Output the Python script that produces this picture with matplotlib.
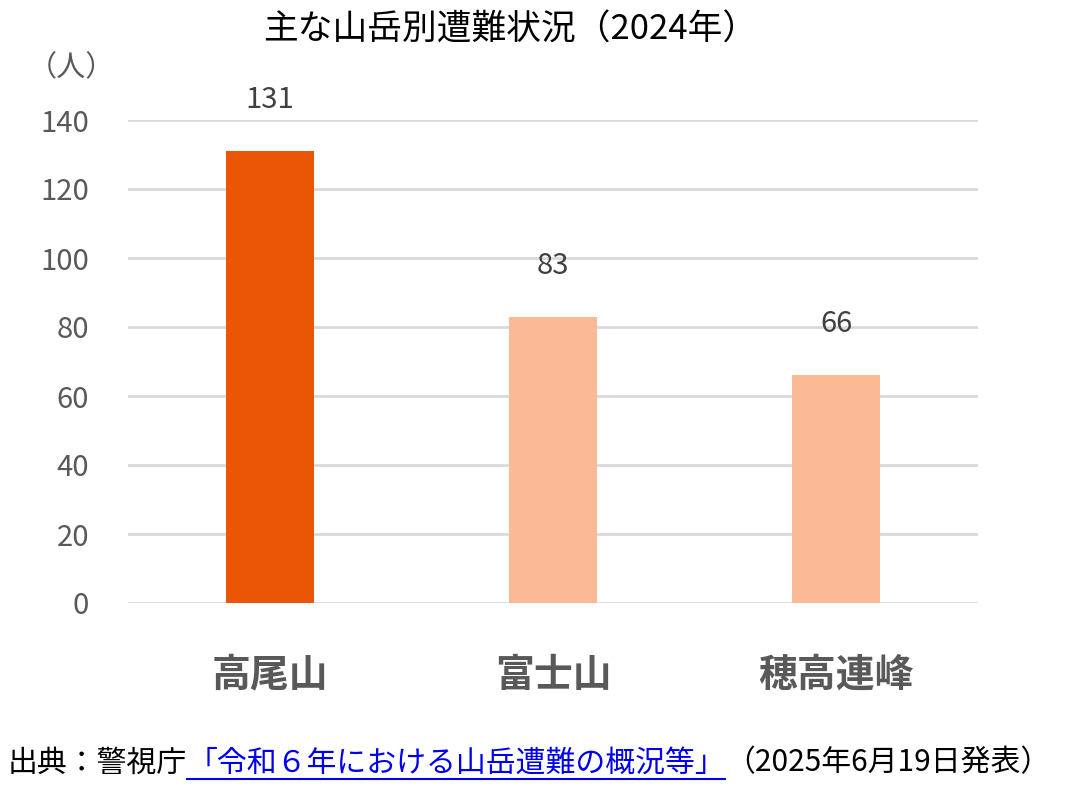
import matplotlib
matplotlib.use("Agg")
import matplotlib.pyplot as plt

categories = ["高尾山", "富士山", "穂高連峰"]
values = [131, 83, 66]
colors = ["#EA5506", "#FBB995", "#FBB995"]
yticks = [0, 20, 40, 60, 80, 100, 120, 140]

plt.rcParams['font.family'] = ['Noto Sans CJK JP', 'DejaVu Sans']
fig = plt.figure(figsize=(10.69, 7.89), dpi=100)
ax = fig.add_axes([128/1069, 1-603/789, 850/1069, 483/789])
x = range(len(categories))
ax.bar(x, values, width=0.31, color=colors, zorder=3)
ax.set_xlim(-0.5, 2.5)
ax.set_ylim(0, 140)
ax.set_yticks(yticks)
ax.set_yticklabels([str(v) for v in yticks], fontsize=21, color="#595959")
ax.set_xticks(list(x))
ax.set_xticklabels(categories, fontsize=28, fontweight="bold", color="#595959")
ax.tick_params(axis='x', length=0, pad=38)
ax.tick_params(axis='y', length=0, pad=28)
ax.grid(axis='y', color="#d9d9d9", linewidth=2, zorder=0)
for s in ax.spines.values():
    s.set_visible(False)
for i, v in enumerate(values):
    ax.annotate(str(v), (i, v), xytext=(0, 26), textcoords="offset points",
                ha="center", va="bottom", fontsize=21, color="#404040")
fig.text(510/1069, 1-30/789, "主な山岳別遭難状況（2024年）", ha="center", va="center", fontsize=25)
fig.text(28/1069, 1-68/789, "（人）", ha="left", va="center", fontsize=21, color="#595959")

# source line
pieces = [("出典：警視庁", "black", False),
          ("「令和６年における山岳遭難の概況等」", "#0000EE", True),
          ("（2025年6月19日発表）", "black", False)]
fig.canvas.draw()
r = fig.canvas.get_renderer()
xp = 8
yb = 789 - 763
for txt, c, ul in pieces:
    t = fig.text(xp/1069, yb/789, txt, fontsize=21.5, color=c, ha="left", va="center")
    bb = t.get_window_extent(renderer=r)
    if ul:
        fig.add_artist(plt.Line2D([xp/1069, (xp+bb.width)/1069], [(yb-16)/789]*2,
                                  color=c, linewidth=1.5, transform=fig.transFigure))
    xp += bb.width
fig.savefig("out.png", dpi=100)
